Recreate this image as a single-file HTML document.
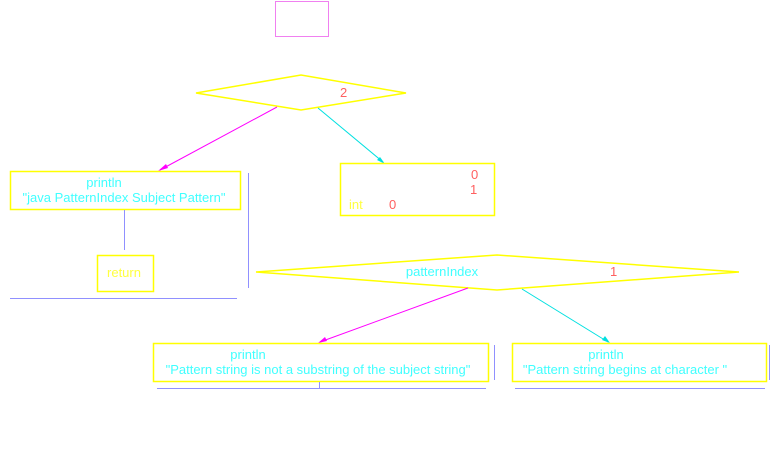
<!DOCTYPE html>
<html><head><style>
html,body{margin:0;padding:0;background:#fff;width:776px;height:456px;overflow:hidden}
svg{display:block}
text{font-family:"Liberation Sans",sans-serif;font-size:13px}
</style></head><body>
<svg width="776" height="456" viewBox="0 0 776 456" xmlns="http://www.w3.org/2000/svg">
<rect x="275.5" y="1.5" width="53" height="35" fill="none" stroke="#f080f0" stroke-width="1"/>
<polygon points="196,93 301,75 406,93 301,110" fill="none" stroke="#ffff00" stroke-width="1.5"/>
<text x="340" y="97" fill="#ff6060">2</text>
<line x1="277" y1="107" x2="160" y2="170" stroke="#ff00ff" stroke-width="1"/>
<polygon points="158,171 166,164 168,168" fill="#ff00ff"/>
<line x1="318" y1="108" x2="383" y2="162" stroke="#00e0e0" stroke-width="1"/>
<polygon points="385,164 377,160 380,157" fill="#00e0e0"/>
<rect x="10.5" y="171.5" width="230" height="38" fill="none" stroke="#ffff00" stroke-width="1.5"/>
<text x="104" y="187" fill="#40ffff" text-anchor="middle">println</text>
<text x="124" y="202" fill="#40ffff" text-anchor="middle">"java PatternIndex Subject Pattern"</text>
<line x1="124.5" y1="210" x2="124.5" y2="250" stroke="#9090ff" stroke-width="1"/>
<rect x="97.5" y="255.5" width="56" height="36" fill="none" stroke="#ffff00" stroke-width="1.5"/>
<text x="124" y="277" fill="#ffff40" text-anchor="middle">return</text>
<line x1="248.5" y1="173" x2="248.5" y2="288" stroke="#9090ff" stroke-width="1"/>
<line x1="10" y1="298.5" x2="237" y2="298.5" stroke="#9090ff" stroke-width="1"/>
<rect x="340.5" y="163.5" width="154" height="52" fill="none" stroke="#ffff00" stroke-width="1.5"/>
<text x="471" y="179" fill="#ff6060">0</text>
<text x="470" y="194" fill="#ff6060">1</text>
<text x="349" y="209" fill="#ffff40">int</text>
<text x="389" y="209" fill="#ff6060">0</text>
<polygon points="256,272 497,255 739,272 497,290" fill="none" stroke="#ffff00" stroke-width="1.5"/>
<text x="442" y="276" fill="#40ffff" text-anchor="middle">patternIndex</text>
<text x="610" y="276" fill="#ff6060">1</text>
<line x1="468" y1="288" x2="320" y2="342" stroke="#ff00ff" stroke-width="1"/>
<polygon points="318,343 325,337 327,341" fill="#ff00ff"/>
<line x1="522" y1="289" x2="608" y2="342" stroke="#00e0e0" stroke-width="1"/>
<polygon points="610,343 602,340 605,336" fill="#00e0e0"/>
<rect x="153.5" y="343.5" width="335" height="38" fill="none" stroke="#ffff00" stroke-width="1.5"/>
<text x="248" y="359" fill="#40ffff" text-anchor="middle">println</text>
<text x="318" y="374" fill="#40ffff" text-anchor="middle">"Pattern string is not a substring of the subject string"</text>
<line x1="494.5" y1="345" x2="494.5" y2="380" stroke="#9090ff" stroke-width="1"/>
<line x1="157" y1="388.5" x2="486" y2="388.5" stroke="#9090ff" stroke-width="1"/>
<line x1="319.5" y1="382" x2="319.5" y2="388" stroke="#9090ff" stroke-width="1"/>
<rect x="512.5" y="343.5" width="254" height="38" fill="none" stroke="#ffff00" stroke-width="1.5"/>
<text x="606" y="359" fill="#40ffff" text-anchor="middle">println</text>
<text x="625" y="374" fill="#40ffff" text-anchor="middle">"Pattern string begins at character "</text>
<line x1="769.5" y1="345" x2="769.5" y2="380" stroke="#9090ff" stroke-width="1"/>
<line x1="515" y1="388.5" x2="765" y2="388.5" stroke="#9090ff" stroke-width="1"/>
</svg>
</body></html>
